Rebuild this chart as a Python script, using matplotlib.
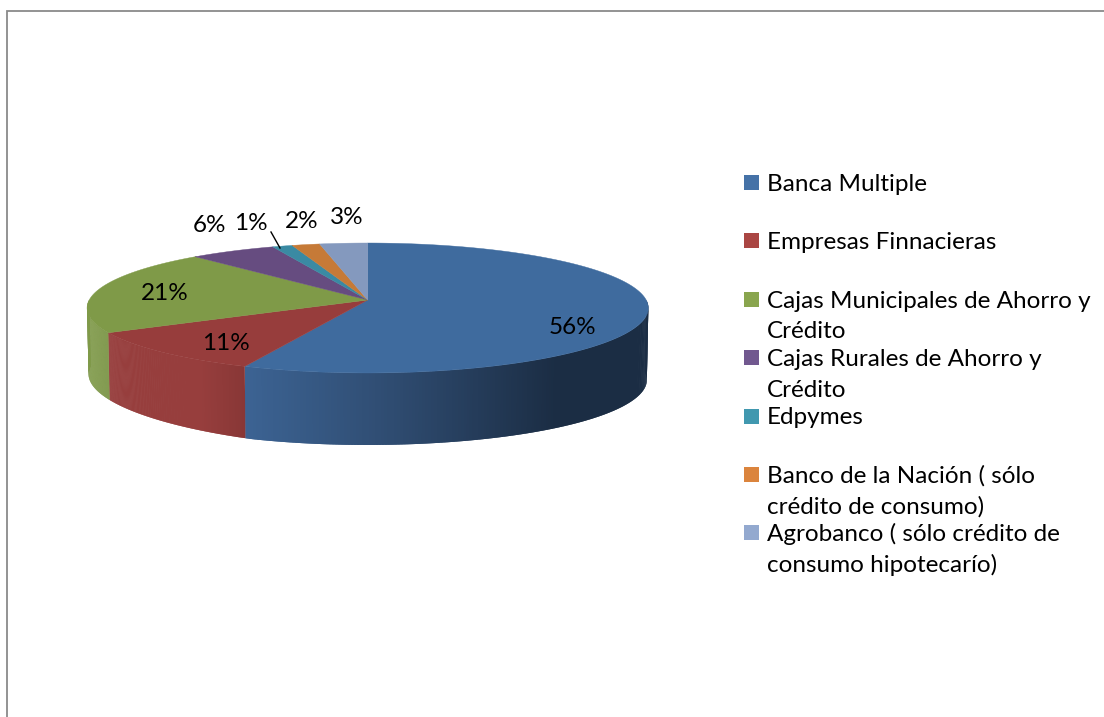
# coding:utf-8
# pastel 3D de cartera por tipo de entidad
import matplotlib
matplotlib.use("Agg")
import matplotlib.pyplot as plt
import numpy as np

categories = ["Banca Multiple", "Empresas Finnacieras", "Cajas Municipales de Ahorro y\nCrédito",
              "Cajas Rurales de Ahorro y\nCrédito", "Edpymes", "Banco de la Nación ( sólo\ncrédito de consumo)",
              "Agrobanco ( sólo crédito de\nconsumo hipotecarío)"]
labels = [56, 11, 21, 6, 1, 2, 3]
shares = [56.4, 10.6, 21.2, 5.6, 1.3, 1.8, 3.1]
top_colors = ["#3f6b9e", "#973d3c", "#7f9a48", "#664c80", "#3a8aa3", "#c67a37", "#8499be"]
legend_colors = ["#4572a7", "#aa4643", "#89a54e", "#71588f", "#4198af", "#db843d", "#93a9cf"]

plt.rcParams["font.family"] = ["Lato", "DejaVu Sans"]

# colores de la pared lateral segun x en pixeles
wall_stops = {
    0: ([245, 390, 555, 650], ["#3c6393", "#2f4c71", "#1b2d44", "#1b2d44"]),
    1: ([108, 200, 245], ["#973e3d", "#973e3d", "#883736"]),
    2: ([87, 110], ["#7f9a48", "#7a9445"]),
}


def project(t, depth=False):
    # circulo unidad a perspectiva, t en radianes desde arriba, sentido horario
    u, v = np.sin(t), np.cos(t)
    w = 1 + 0.123 * v
    x = 367.7 + 278.5 * u / w
    y = 300 - 64 * v / w
    if depth:
        y = y + np.interp(-u, [-1, 0.37, 1], [72, 72, 66])
        x = x + np.interp(u, [-1, 0, 1], [1.5, 0, -1.5])
    return x, y


def hex_rgb(c):
    return np.array(matplotlib.colors.to_rgb(c))


fig = plt.figure(figsize=(11.04, 7.17), dpi=100)
ax = fig.add_axes([0, 0, 1, 1])
ax.set_xlim(0, 1104)
ax.set_ylim(717, 0)
ax.axis("off")

# marco del grafico, solo se ve arriba y a la izquierda
ax.plot([7, 7, 1104], [717, 11, 11], color="#8a8a8a", lw=1.3, solid_joinstyle="miter")

edges = np.cumsum([0] + shares) / sum(shares) * 2 * np.pi

# paredes, cada tira pisa a la anterior para que no queden costuras
for i, (a, b) in enumerate(zip(edges[:-1], edges[1:])):
    lo, hi = max(a, np.pi / 2), min(b, 3 * np.pi / 2)
    if hi <= lo or i not in wall_stops:
        continue
    stops_x, stops_c = wall_stops[i]
    rgb = np.array([hex_rgb(c) for c in stops_c])
    ts = np.linspace(lo, hi, 200)
    for k in range(len(ts) - 1):
        t0, t1 = ts[k], ts[min(k + 2, len(ts) - 1)]
        xa, ya = project(t0)
        xb, yb = project(t1)
        xc, yc = project(t1, True)
        xd, yd = project(t0, True)
        xm = (xa + xb) / 2
        col = [np.interp(xm, stops_x, rgb[:, c]) for c in range(3)]
        ax.fill([xa, xb, xc, xd], [ya, yb, yc, yd], color=col, lw=0)

# tapa
for i, (a, b) in enumerate(zip(edges[:-1], edges[1:])):
    ts = np.linspace(a, b, 200)
    xs, ys = project(ts)
    ax.fill(np.r_[367.7, xs], np.r_[300, ys], color=top_colors[i], lw=0.3)

# etiquetas de porcentaje
label_pos = [(572, 327), (226, 343), (165, 293), (209, 225), (251, 223), (301.5, 221), (347, 217)]
for v, (lx, ly) in zip(labels, label_pos):
    ax.text(lx, ly, f"{v}%", ha="center", va="center", fontsize=17.5, color="black")
ax.plot([271, 280], [232, 248], color="black", lw=1)

# leyenda
for i, (name, c) in enumerate(zip(categories, legend_colors)):
    y0 = 182.5 + i * 58.4
    ax.add_patch(plt.Rectangle((744, y0 - 7.5), 15, 15, color=c, lw=0))
    for j, line in enumerate(name.split("\n")):
        ax.text(767, y0 + 8.2 + j * 31, line, ha="left", va="baseline", fontsize=17.5, color="black")

fig.savefig("out.png", dpi=100)
